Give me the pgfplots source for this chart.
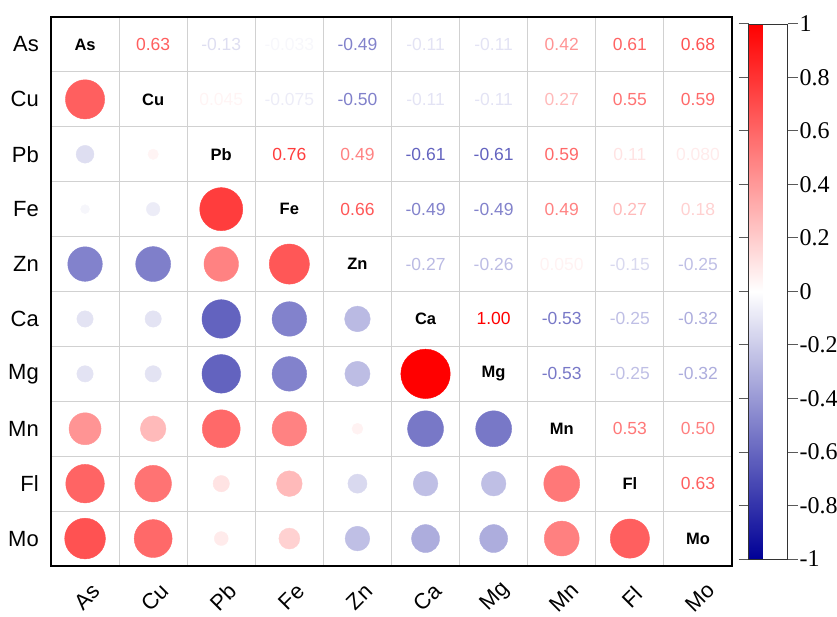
\documentclass[border=0pt]{standalone}
\usepackage{pgfplots}
\usepackage{pgfplotstable}
\pgfplotsset{compat=1.18}
\usepackage{fontspec}
\setmainfont{Liberation Sans}
\newfontfamily\timesf{Liberation Serif}
\definecolor{cbblue}{RGB}{0,0,150}

\pgfplotstableread{
x y r
2 1 0.63
3 1 -0.13
4 1 -0.033
5 1 -0.49
6 1 -0.11
7 1 -0.11
8 1 0.42
9 1 0.61
10 1 0.68
3 2 0.045
4 2 -0.075
5 2 -0.50
6 2 -0.11
7 2 -0.11
8 2 0.27
9 2 0.55
10 2 0.59
4 3 0.76
5 3 0.49
6 3 -0.61
7 3 -0.61
8 3 0.59
9 3 0.11
10 3 0.080
5 4 0.66
6 4 -0.49
7 4 -0.49
8 4 0.49
9 4 0.27
10 4 0.18
6 5 -0.27
7 5 -0.26
8 5 0.050
9 5 -0.15
10 5 -0.25
7 6 1.00
8 6 -0.53
9 6 -0.25
10 6 -0.32
8 7 -0.53
9 7 -0.25
10 7 -0.32
9 8 0.53
10 8 0.50
10 9 0.63
}\uppertab

\pgfplotstableread{
x y r
1 2 0.63
1 3 -0.13
1 4 -0.033
1 5 -0.49
1 6 -0.11
1 7 -0.11
1 8 0.42
1 9 0.61
1 10 0.68
2 3 0.045
2 4 -0.075
2 5 -0.50
2 6 -0.11
2 7 -0.11
2 8 0.27
2 9 0.55
2 10 0.59
3 4 0.76
3 5 0.49
3 6 -0.61
3 7 -0.61
3 8 0.59
3 9 0.11
3 10 0.080
4 5 0.66
4 6 -0.49
4 7 -0.49
4 8 0.49
4 9 0.27
4 10 0.18
5 6 -0.27
5 7 -0.26
5 8 0.050
5 9 -0.15
5 10 -0.25
6 7 1.00
6 8 -0.53
6 9 -0.25
6 10 -0.32
7 8 -0.53
7 9 -0.25
7 10 -0.32
8 9 0.53
8 10 0.50
9 10 0.63
}\lowertab

\pgfplotstableread{
x name
1 As
2 Cu
3 Pb
4 Fe
5 Zn
6 Ca
7 Mg
8 Mn
9 Fl
10 Mo
}\diagtab

\begin{document}
\begin{tikzpicture}
\begin{axis}[
  at={(51pt,50pt)}, anchor=south west,
  scale only axis, width=681pt, height=549pt,
  xmin=0.5, xmax=10.5, ymin=0.5, ymax=10.5, y dir=reverse,
  xtick={1,2,3,4,5,6,7,8,9,10}, ytick={1,2,3,4,5,6,7,8,9,10},
  xticklabels={As,Cu,Pb,Fe,Zn,Ca,Mg,Mn,Fl,Mo},
  yticklabels={As,Cu,Pb,Fe,Zn,Ca,Mg,Mn,Fl,Mo},
  minor xtick={1.5,2.5,3.5,4.5,5.5,6.5,7.5,8.5,9.5},
  minor ytick={1.5,2.5,3.5,4.5,5.5,6.5,7.5,8.5,9.5},
  major tick length=0pt, minor tick length=0pt,
  grid=minor, minor grid style={draw=black!18, line width=0.9pt},
  axis line style={black, line width=1.3pt},
  colormap={bwr}{rgb255(0cm)=(0,0,150); rgb255(1cm)=(255,255,255); rgb255(2cm)=(255,0,0)},
  point meta min=-1, point meta max=1,
  yticklabel style={font=\fontsize{22}{22}\selectfont, anchor=east, inner sep=0pt, xshift=-12pt},
  xticklabel style={font=\fontsize{22}{22}\selectfont, xshift=2pt, yshift=-31pt, rotate=45, anchor=center, inner sep=0pt},
  clip=false,
  colorbar,
  colorbar style={
    at={(parent axis.north east)}, anchor=north west, xshift=8pt, yshift=-7pt,
    scale only axis, width=39pt, height=535pt,
    ytick={-1,-0.8,-0.6,-0.4,-0.2,0,0.2,0.4,0.6,0.8,1},
    yticklabels={-1,-0.8,-0.6,-0.4,-0.2,0,0.2,0.4,0.6,0.8,1},
    yticklabel style={font=\timesf\fontsize{24}{24}\selectfont, inner sep=2pt, anchor=west, xshift=0pt},
    major tick length=10pt, tick align=outside,
    tick style={draw=black!65, line width=1pt},
    axis line style={draw=black!80, line width=0.8pt},
    grid=none, minor ytick={}, minor xtick={},
  },
]
\addplot[scatter, only marks, mark=*, point meta=explicit,
  scatter/use mapped color={draw=mapped color, fill=mapped color},
  visualization depends on={24.7*sqrt(abs(\thisrow{r}))\as\msize},
  scatter/@pre marker code/.append style={/tikz/mark size=\msize}]
  table[x=x, y=y, meta=r] {\lowertab};
\addplot[only marks, mark=none, point meta=explicit symbolic,
  visualization depends on={\thisrow{r}\as\rv},
  nodes near coords,
  every node near coord/.append style={anchor=center,
    font=\fontsize{17.5}{17.5}\selectfont,
    /utils/exec={\pgfmathsetmacro\pct{min(100,abs(\rv)*100)}%
      \ifdim\rv pt<0pt \colorlet{tc}{cbblue!\pct!white}\else\colorlet{tc}{red!\pct!white}\fi},
    text=tc}]
  table[x=x, y=y, meta=r] {\uppertab};
\addplot[only marks, mark=none, point meta=explicit symbolic,
  nodes near coords,
  every node near coord/.append style={anchor=center, text=black, font=\bfseries\fontsize{16.5}{16.5}\selectfont}]
  table[x=x, y=x, meta=name] {\diagtab};
\end{axis}
\pgfresetboundingbox
\path[use as bounding box] (0,0) rectangle (837pt,616pt);
\end{tikzpicture}
\end{document}
